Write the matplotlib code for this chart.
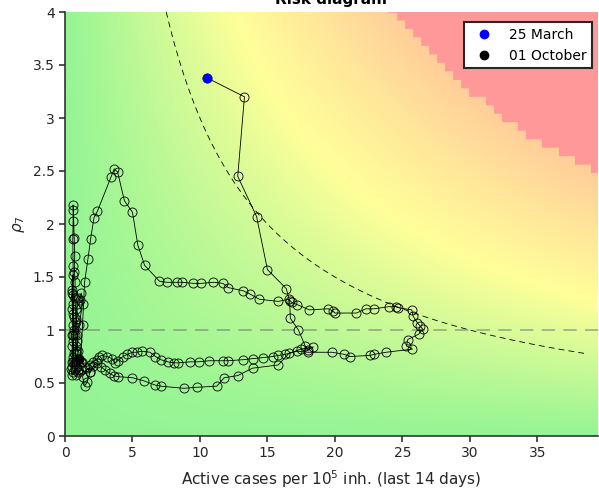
import numpy as np
import matplotlib
matplotlib.use("Agg")
import matplotlib.pyplot as plt
from matplotlib.lines import Line2D

# trajectory: active cases per 1e5 (14 days) vs rho_7
# first wave (starts 25 March) and its decline
x_first = [10.5, 13.3, 12.8, 14.2, 15.0, 16.4, 16.65, 16.7, 17.3, 17.8, 18.0, 18.4,
           17.5, 16.6, 15.8, 13.9, 12.8, 11.8, 11.25, 9.8, 8.8, 7.1, 6.7, 5.85,
           5.0, 3.9, 3.6, 3.3, 3.0, 2.7, 2.35, 2.1, 1.85, 1.65, 1.45, 1.3, 1.65, 1.85]
r_first = [3.38, 3.2, 2.45, 2.07, 1.57, 1.39, 1.27, 1.11, 1.0, 0.85, 0.81, 0.84,
           0.82, 0.78, 0.67, 0.64, 0.57, 0.55, 0.47, 0.46, 0.45, 0.47, 0.48, 0.52,
           0.55, 0.56, 0.57, 0.59, 0.62, 0.65, 0.69, 0.66, 0.6, 0.51, 0.47, 0.56, 0.64, 0.6]

# summer, low incidence
x_summer = [1.2, 1.0, 0.8, 0.6, 0.5, 0.45, 0.5, 0.55, 0.5, 0.6, 0.55, 0.5, 0.6, 0.55,
            0.6, 0.65, 0.7, 0.6, 0.65, 0.6, 0.55, 0.6, 0.62, 0.6, 0.62, 0.6, 0.58,
            0.6, 0.6, 0.62, 0.68, 0.72, 0.7, 0.75, 0.72, 0.78, 0.8, 0.75, 0.8, 0.78,
            0.9, 0.95, 0.9, 0.85, 0.9, 1.0, 1.1, 1.2, 1.3, 1.05, 0.9, 0.8, 0.7, 0.75,
            0.85, 1.0, 1.15, 1.3, 1.45]
r_summer = [0.62, 0.6, 0.65, 0.6, 0.58, 0.63, 0.7, 0.85, 0.95, 1.05, 1.2, 1.35, 1.52, 1.38,
            1.25, 1.12, 1.0, 0.9, 0.78, 0.7, 0.65, 0.75, 0.95, 1.15, 1.33, 1.6, 1.86,
            2.03, 2.18, 2.13, 1.87, 1.7, 1.55, 1.45, 1.3, 1.2, 1.08, 0.95, 0.85, 0.78,
            0.72, 0.8, 0.95, 1.1, 1.25, 1.3, 1.28, 1.35, 1.25, 1.05, 0.9, 0.8, 0.68, 0.62,
            0.58, 0.62, 0.7, 1.05, 1.45]

# second wave and decline to 01 October
x_second = [1.7, 1.9, 2.15, 2.4, 3.4, 3.65, 3.9, 4.4, 5.0, 5.4, 5.9, 7.0, 7.55, 8.3, 8.7,
            9.5, 10.1, 11.0, 11.7, 12.1, 13.2, 13.7, 14.4, 15.8, 16.6, 16.8, 17.2, 18.1,
            19.5, 19.85, 20.0, 21.6, 22.3, 22.9, 24.0, 24.5, 24.7, 25.7, 25.8, 26.1, 26.3,
            26.5, 26.2, 25.4, 25.3, 25.75, 23.8, 22.9, 22.6, 21.1, 20.7, 19.8, 18.0, 17.2,
            16.3, 15.8, 15.4, 14.7, 13.9, 13.2, 12.1, 11.7, 10.7, 9.9, 9.3, 8.4, 8.1, 7.6,
            7.1, 6.7, 6.3, 5.7, 5.3, 5.0, 4.6, 4.3, 3.9, 3.7, 3.5, 3.1, 2.75, 2.5, 2.35,
            2.1, 1.85, 1.5, 1.25, 1.06]
r_second = [1.67, 1.86, 2.06, 2.12, 2.44, 2.52, 2.49, 2.22, 2.11, 1.8, 1.61, 1.46, 1.45, 1.45, 1.45,
            1.44, 1.44, 1.45, 1.44, 1.4, 1.37, 1.34, 1.29, 1.27, 1.29, 1.26, 1.24, 1.19,
            1.2, 1.18, 1.16, 1.16, 1.2, 1.2, 1.22, 1.22, 1.21, 1.19, 1.13, 1.07, 1.04,
            1.01, 0.96, 0.91, 0.85, 0.82, 0.79, 0.77, 0.76, 0.75, 0.77, 0.79, 0.79, 0.8,
            0.77, 0.76, 0.75, 0.74, 0.73, 0.72, 0.71, 0.71, 0.71, 0.7, 0.7, 0.69, 0.69, 0.7,
            0.72, 0.75, 0.79, 0.8, 0.79, 0.79, 0.77, 0.75, 0.71, 0.69, 0.73, 0.75, 0.76, 0.75, 0.72,
            0.7, 0.67, 0.65, 0.7, 0.73]

x = np.array(x_first + x_summer + x_second)
rho = np.array(r_first + r_summer + r_second)

xmax, ymax = 39.5, 4.0
risk_level = 30  # dashed iso-risk curve: cases * rho = 30

fig = plt.figure(figsize=(5.99, 4.91), dpi=100)
ax = fig.add_axes([65/599, 55/491, 533/599, 424/491])

# background: green -> yellow -> orange below 100, red above (coarse cells)
gx = np.linspace(0, xmax, 600)
gy = np.linspace(0, ymax, 500)
GX, GY = np.meshgrid(gx, gy)
R = GX * GY
green = np.array([0.58, 0.96, 0.58])
yellow = np.array([1.0, 1.0, 0.6])
orange = np.array([1.0, 0.8, 0.6])
red = np.array([1.0, 0.6, 0.6])
t1 = np.clip(R / 50, 0, 1)[..., None]
t2 = np.clip((R - 50) / 50, 0, 1)[..., None]
img = np.where(R[..., None] < 50, green + (yellow - green) * t1, yellow + (orange - yellow) * t2)
dx, dy = 0.6, 0.08
Rc = ((np.floor(GX / dx) + 1) * dx) * ((np.floor(GY / dy) + 1) * dy)
img[Rc >= 100] = red
ax.imshow(img, extent=[0, xmax, 0, ymax], origin="lower", aspect="auto", zorder=0)

# reference lines
xc = np.linspace(risk_level / ymax, 38.5, 300)
ax.plot(xc, risk_level / xc, color="k", lw=0.6, dashes=(7, 5), zorder=1)
ax.axhline(1, color="0.45", alpha=0.6, lw=1.2, dashes=(8, 5), zorder=1)

# trajectory
ax.plot(x, rho, "-o", color="k", lw=0.6, ms=6.5, mfc="none", mec="k", mew=0.6, zorder=2)
ax.plot(x[0], rho[0], "o", color="blue", ms=6, zorder=3)
ax.plot(x[-1], rho[-1], "o", color="k", ms=6, zorder=3)

ax.set_xlim(0, xmax)
ax.set_ylim(0, ymax)
ax.set_xticks(np.arange(0, 40, 5))
ax.set_yticks(np.arange(0, 4.01, 0.5))
ax.set_yticklabels(["0", "0.5", "1", "1.5", "2", "2.5", "3", "3.5", "4"])
for s in ["top", "right"]:
    ax.spines[s].set_visible(False)
for s in ["left", "bottom"]:
    ax.spines[s].set_color("#333333")
    ax.spines[s].set_linewidth(1.2)
ax.tick_params(direction="out", length=4, width=1.2, color="#333333",
               labelcolor="#262626", labelsize=10)
ax.set_xlabel("Active cases per $10^5$ inh. (last 14 days)", fontsize=11,
              color="#262626", labelpad=6)
ax.set_ylabel(r"$\rho_7$", fontsize=11, color="#262626", labelpad=4)

fig.text(331/599, 1 - 4/491, "Risk diagram", ha="center", va="baseline",
         fontsize=11, fontweight="bold")

handles = [Line2D([], [], marker="o", ls="none", color="blue", ms=6),
           Line2D([], [], marker="o", ls="none", color="k", ms=6)]
leg = ax.legend(handles, ["25 March", "01 October"], loc="upper right",
                bbox_to_anchor=(1 - 6/533, 1 - 10/424), fancybox=False,
                fontsize=10, handletextpad=0.8, borderaxespad=0, framealpha=1)
leg.get_frame().set_edgecolor("#262626")
leg.get_frame().set_linewidth(1.5)

fig.savefig("out.png", dpi=100)
